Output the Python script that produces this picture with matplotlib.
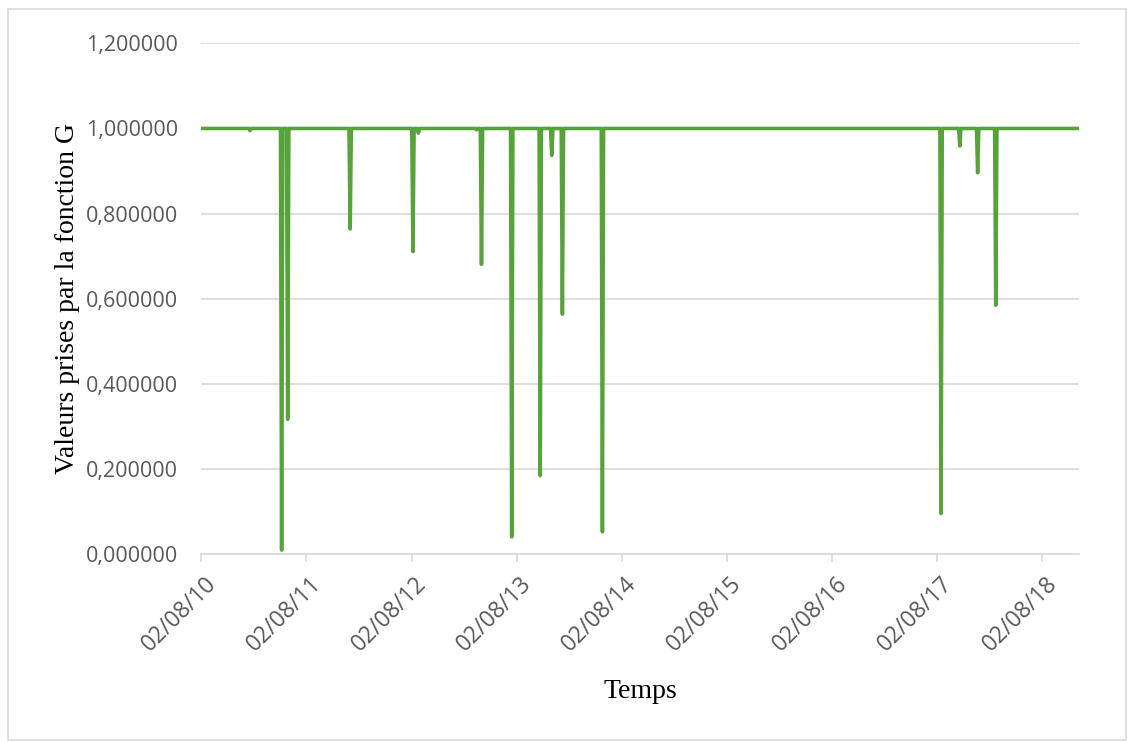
import pandas as pd
import matplotlib.pyplot as plt
import matplotlib.dates as mdates
import matplotlib.transforms as mtransforms
from matplotlib.ticker import FuncFormatter
from matplotlib.patches import Rectangle

# Series (value 1 between the dips)
dates = [
    "2010-08-02",
    "2011-01-15", "2011-01-19", "2011-01-23",
    "2011-05-05", "2011-05-09", "2011-05-13",
    "2011-05-26", "2011-05-30", "2011-06-03",
    "2011-12-29", "2012-01-02", "2012-01-06",
    "2012-08-03", "2012-08-07", "2012-08-11",
    "2012-08-22", "2012-08-26", "2012-08-30",
    "2013-03-12", "2013-03-16", "2013-03-20",
    "2013-03-29", "2013-04-02", "2013-04-06",
    "2013-07-12", "2013-07-16", "2013-07-20",
    "2013-10-19", "2013-10-23", "2013-10-27",
    "2013-11-28", "2013-12-02", "2013-12-06",
    "2014-01-04", "2014-01-08", "2014-01-12",
    "2014-05-23", "2014-05-27", "2014-05-31",
    "2017-08-11", "2017-08-15", "2017-08-19",
    "2017-10-15", "2017-10-19", "2017-10-23",
    "2017-12-16", "2017-12-20", "2017-12-24",
    "2018-02-17", "2018-02-21", "2018-02-25",
    "2018-12-07",
]
values = [
    1.0,
    1.0, 0.995, 1.0,
    1.0, 0.010, 1.0,
    1.0, 0.317, 1.0,
    1.0, 0.764, 1.0,
    1.0, 0.711, 1.0,
    1.0, 0.989, 1.0,
    1.0, 0.997, 1.0,
    1.0, 0.681, 1.0,
    1.0, 0.041, 1.0,
    1.0, 0.185, 1.0,
    1.0, 0.937, 1.0,
    1.0, 0.564, 1.0,
    1.0, 0.053, 1.0,
    1.0, 0.096, 1.0,
    1.0, 0.959, 1.0,
    1.0, 0.896, 1.0,
    1.0, 0.585, 1.0,
    1.0,
]
tick_dates = ["2010-08-02", "2011-08-02", "2012-08-02", "2013-08-02", "2014-08-02",
              "2015-08-02", "2016-08-02", "2017-08-02", "2018-08-02"]

x = pd.to_datetime(dates)
ticks = pd.to_datetime(tick_dates)

fig = plt.figure(figsize=(11.34, 7.42), dpi=100)
ax = fig.add_axes([201 / 1134, 1 - 554.3 / 742, (1079 - 201) / 1134, (554.3 - 43.3) / 742])

ax.plot(x, values, color='#58A23C', linewidth=2.6, solid_joinstyle='round')

ax.set_ylim(0, 1.2)
ax.set_yticks([0, 0.2, 0.4, 0.6, 0.8, 1.0, 1.2])
ax.yaxis.set_major_formatter(FuncFormatter(lambda v, p: f"{v:.6f}".replace('.', ',')))
ax.set_xlim(pd.Timestamp("2010-08-02"), pd.Timestamp("2018-12-07"))
ax.set_xticks(ticks)
ax.xaxis.set_major_formatter(mdates.DateFormatter('%d/%m/%y'))

ax.grid(axis='y', color='#d9d9d9', linewidth=1.2)
ax.set_axisbelow(True)
for s in ['left', 'right', 'top']:
    ax.spines[s].set_visible(False)
ax.spines['bottom'].set_color('#d9d9d9')
ax.spines['bottom'].set_linewidth(1.2)

ax.tick_params(axis='y', length=0, pad=16.5, labelsize=15.5, labelcolor='#595959')
ax.tick_params(axis='x', length=6, width=1.2, color='#d9d9d9', pad=7,
               labelsize=16.5, labelcolor='#595959')
shift = mtransforms.ScaledTranslation(3 / 100, 0, fig.dpi_scale_trans)
for lab in ax.get_yticklabels() + ax.get_xticklabels():
    lab.set_fontfamily('Open Sans')
for lab in ax.get_xticklabels():
    lab.set_rotation(45)
    lab.set_ha('right')
    lab.set_rotation_mode('anchor')
    lab.set_transform(lab.get_transform() + shift)

ax.set_xlabel('Temps', fontfamily='Liberation Serif', fontsize=20)
ax.set_ylabel('Valeurs prises par la fonction G', fontfamily='Liberation Serif',
              fontsize=20)
ax.xaxis.set_label_coords(0.5, -(679 - 554.3) / 511)
ax.yaxis.set_label_coords((80 - 201) / 878, 0.5)

# chart border
fig.patches.append(Rectangle((8 / 1134, 1 - 740 / 742), 1118 / 1134, 731 / 742,
                             transform=fig.transFigure, fill=False,
                             edgecolor='#d9d9d9', linewidth=1.2))

plt.savefig('out.png', dpi=100)
